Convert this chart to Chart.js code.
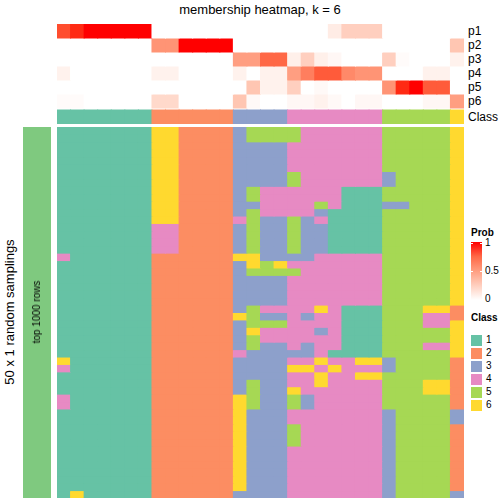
<!DOCTYPE html>
<html>
<head>
<meta charset="utf-8">
<script src="https://cdn.jsdelivr.net/npm/chart.js@4.4.0/dist/chart.umd.min.js"></script>
<style>
  body { margin: 0; width: 504px; height: 504px; background: #fff; position: relative; overflow: hidden;
         font-family: "Liberation Sans", Arial, sans-serif; }
  canvas { position: absolute; }
  .t { position: absolute; color: #000; white-space: nowrap; line-height: 14px; font-size: 12px; }
  .b { font-weight: bold; font-size: 10px; }
  .box { position: absolute; width: 11px; height: 11px; }
</style>
</head>
<body>
<canvas id="topChart" width="407" height="100" style="left:57px;top:24px"></canvas>
<canvas id="mainChart" width="407" height="371" style="left:57px;top:127px"></canvas>
<canvas id="sideChart" width="28" height="371" style="left:23px;top:127px"></canvas>

<div class="t" style="left:260px;top:3px;font-size:13px;transform:translateX(-50%)">membership heatmap, k = 6</div>
<div class="t" style="left:10px;top:312px;font-size:13px;transform:translate(-50%,-50%) rotate(-90deg)">50 x 1 random samplings</div>
<div class="t" style="left:37px;top:312px;font-size:10px;transform:translate(-50%,-50%) rotate(-90deg)">top 1000 rows</div>
<div id="legend"></div>

<script>
// columns of the heatmap (samples)
const columns = Array.from({ length: 30 }, (_, i) => "s" + (i + 1));

// membership probabilities per class
const p1 = [0.85,0.95,1,1,1,1,1, 0,0, 0,0,0,0, 0,0,0,0, 0,0,0,0.1,0.25,0.25,0.25, 0,0,0,0,0, 0];
const p2 = [0,0,0,0,0,0,0, 0.55,0.55, 1,1,1,1, 0,0,0,0, 0,0,0,0,0,0,0, 0,0,0,0,0, 0.3];
const p3 = [0,0,0,0,0,0,0, 0,0, 0,0,0,0, 0.5,0.5,0.75,0.75, 0.08,0.25,0.08,0.04,0,0,0, 0.25,0.02,0,0,0, 0.07];
const p4 = [0.07,0,0,0,0,0,0, 0.07,0.07, 0,0,0,0, 0.07,0,0.07,0.07, 0.5,0.65,0.8,0.8,0.6,0.55,0.55, 0,0,0,0.07,0.07, 0];
const p5 = [0,0,0,0,0,0,0, 0,0, 0,0,0,0, 0,0.3,0.07,0.07, 0.25,0,0.03,0,0,0,0, 0.55,0.95,1,0.8,0.8, 0];
const p6 = [0.02,0.02,0,0,0,0,0, 0.2,0.2, 0,0,0,0, 0.3,0.03,0,0, 0.04,0.04,0.07,0.03,0,0.04,0.04, 0,0,0,0.04,0.04, 0.5];
const probRows = [p1, p2, p3, p4, p5, p6];
const probLabels = ["p1", "p2", "p3", "p4", "p5", "p6"];

// consensus class of each column
const classRow = [1,1,1,1,1,1,1, 2,2,2,2,2,2, 3,3,3,3, 4,4,4,4,4,4,4, 5,5,5,5,5, 6];

// class of each column in each of the 50 samplings
const samplings = [
  "111111166222235555444444555556",
  "111111166222235555444444555556",
  "111111166222233334444444555556",
  "111111166222233334444444555556",
  "111111166222233334444444555556",
  "111111166222233334444444555556",
  "111111166222233335444444355556",
  "111111166222233335444444355556",
  "111111166222235444444111555556",
  "111111166222235444444111555556",
  "111111166222233444454111335556",
  "111111166222235444431111555556",
  "111111166222245335341111555556",
  "111111144222235335331111555556",
  "111111144222235335331111555556",
  "111111144222235335331111555556",
  "111111144222235335331111555556",
  "411111122222266333344444555556",
  "111111122222236564444444555556",
  "111111122222235555444444555556",
  "111111122222233334444444555556",
  "111111122222233334444444555556",
  "111111122222233334444444555556",
  "111111122222233334444444555556",
  "111111122222235444464111555662",
  "111111122222265334344111555442",
  "111111122222235554444111555446",
  "111111122222236444434111555556",
  "111111122222235444444111555556",
  "111111122222235334344111555446",
  "111111122222243333341111555556",
  "611111122222233334464466355552",
  "411111122222233336646444355552",
  "111111122222233334464466555552",
  "111111122222235334464444555662",
  "111111122222235336444444555662",
  "411111122222265335344444555552",
  "411111122222265335344444555552",
  "111111122222263334444444355553",
  "111111122222263334444444355553",
  "111111122222263335444444355552",
  "111111122222263335444444355552",
  "111111122222263335444444355552",
  "111111122222263334444444355552",
  "111111122222263334444444355552",
  "111111122222263334444444355552",
  "111111122222263334444444355552",
  "111111122222263334444444355552",
  "111111122222263334444444355552",
  "161111122222233334444444355553"
];

const classColors = ["#66C2A5", "#FC8D62", "#8DA0CB", "#E78AC3", "#A6D854", "#FFD92F"];
const classNames = ["1", "2", "3", "4", "5", "6"];

// white -> red, interpolated in LAB like circlize does
function probColor(v) {
  const L = 100 + (53.24 - 100) * v, A = 80.09 * v, B = 67.2 * v;
  const fy = (L + 16) / 116, fx = fy + A / 500, fz = fy - B / 200;
  const inv = (t) => (t * t * t > 0.008856 ? t * t * t : (t - 16 / 116) / 7.787);
  const X = 0.95047 * inv(fx), Y = inv(fy), Z = 1.08883 * inv(fz);
  const lin = [
    3.2406 * X - 1.5372 * Y - 0.4986 * Z,
    -0.9689 * X + 1.8758 * Y + 0.0415 * Z,
    0.0557 * X - 0.204 * Y + 1.057 * Z
  ];
  const rgb = lin.map((c) => {
    c = c <= 0.0031308 ? 12.92 * c : 1.055 * Math.pow(c, 1 / 2.4) - 0.055;
    return Math.round(Math.max(0, Math.min(1, c)) * 255);
  });
  return "rgb(" + rgb.join(",") + ")";
}

function cellRow(lo, hi, colors) {
  return {
    data: columns.map(() => [lo, hi]),
    backgroundColor: colors,
    grouped: false,
    barPercentage: 1,
    categoryPercentage: 1,
    borderWidth: 0,
    inflateAmount: 0.5
  };
}

function heatOptions(maxY) {
  return {
    responsive: false,
    animation: false,
    events: [],
    layout: { padding: 0 },
    plugins: { legend: { display: false }, tooltip: { enabled: false } },
    scales: {
      x: { display: false },
      y: { display: false, min: 0, max: maxY, reverse: true }
    }
  };
}

// top annotation: p1..p6 and Class
const topSets = probRows.map((row, i) => cellRow(i, i + 1, row.map(probColor)));
const gap = 1 / 7;
topSets.push(cellRow(6 + gap, 7 + gap, classRow.map((c) => classColors[c - 1])));

new Chart(document.getElementById("topChart"), {
  type: "bar",
  data: { labels: columns, datasets: topSets },
  options: heatOptions(7 + gap)
});

// main heatmap
const mainSets = samplings.map((s, r) =>
  cellRow(r, r + 1, s.split("").map((c) => classColors[Number(c) - 1]))
);

new Chart(document.getElementById("mainChart"), {
  type: "bar",
  data: { labels: columns, datasets: mainSets },
  options: heatOptions(samplings.length)
});

// left row annotation bar
new Chart(document.getElementById("sideChart"), {
  type: "bar",
  data: {
    labels: ["top 1000 rows"],
    datasets: [{ data: [[0, samplings.length]], backgroundColor: "#7FC97F", barPercentage: 1, categoryPercentage: 1, borderWidth: 0 }]
  },
  options: heatOptions(samplings.length)
});

// row labels on the right of the annotation
probLabels.concat(["Class"]).forEach((lab, i) => {
  const d = document.createElement("div");
  d.className = "t";
  d.textContent = lab;
  d.style.left = "468px";
  d.style.top = (i < 6 ? 24 + 14 * i : 110) + "px";
  document.body.appendChild(d);
});

// legends
const lg = document.getElementById("legend");
let html = '<div class="t b" style="left:471px;top:226px">Prob</div>';
const stops = [0, 0.25, 0.5, 0.75, 1].map((v) => probColor(v) + " " + v * 100 + "%").join(",");
html += '<div style="position:absolute;left:471px;top:242px;width:11px;height:58px;background:linear-gradient(to top,' + stops + ')"></div>';
html += '<div style="position:absolute;left:471px;top:243px;width:2px;height:1px;background:#fff"></div>';
html += '<div style="position:absolute;left:480px;top:243px;width:2px;height:1px;background:#fff"></div>';
html += '<div style="position:absolute;left:471px;top:271px;width:2px;height:1px;background:#fff"></div>';
html += '<div style="position:absolute;left:480px;top:271px;width:2px;height:1px;background:#fff"></div>';
[["1", 243], ["0.5", 271], ["0", 299]].forEach(([t, y]) => {
  html += '<div class="t" style="left:485px;top:' + (y - 7) + 'px;font-size:10px">' + t + "</div>";
});
html += '<div class="t b" style="left:471px;top:311px">Class</div>';
classNames.forEach((n, i) => {
  const cy = 340 + 13 * i;
  html += '<div class="box" style="left:471px;top:' + (cy - 5.5) + 'px;background:' + classColors[i] + '"></div>';
  html += '<div class="t" style="left:486px;top:' + (cy - 7) + 'px;font-size:10px">' + n + "</div>";
});
lg.innerHTML = html;
</script>
</body>
</html>
